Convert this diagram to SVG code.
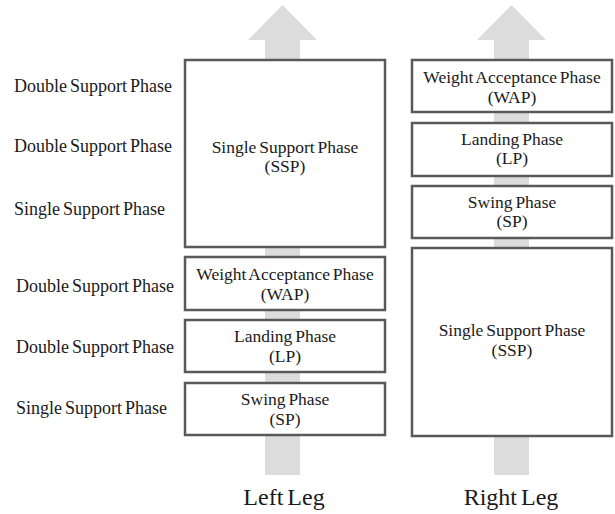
<svg xmlns="http://www.w3.org/2000/svg" width="615" height="514" viewBox="0 0 615 514">
  <style>
    .box { fill: #ffffff; stroke: #595959; stroke-width: 2.5; }
    .arrow { fill: #dcdcdc; }
    text { font-family: "Liberation Serif", "Times New Roman", serif; fill: #1a1a1a; }
    .t { font-size: 17.5px; text-anchor: middle; word-spacing: -1.5px; }
    .side { font-size: 18px; text-anchor: start; word-spacing: -1.5px; }
    .leg { font-size: 24px; text-anchor: middle; word-spacing: -2px; }
  </style>

  <!-- progression arrows behind each leg column -->
  <g id="connectors">
    <polygon class="arrow" points="265,475 300,475 300,40 317,40 282.5,5 248,40 265,40"/>
    <polygon class="arrow" points="494,475 529,475 529,40 546,40 511.5,5 477,40 494,40"/>
  </g>

  <!-- gait labels on the left -->
  <g id="side-labels">
    <text class="side" x="14" y="92">Double Support Phase</text>
    <text class="side" x="14" y="152">Double Support Phase</text>
    <text class="side" x="14" y="215">Single Support Phase</text>
    <text class="side" x="16" y="292">Double Support Phase</text>
    <text class="side" x="16" y="353">Double Support Phase</text>
    <text class="side" x="16" y="414">Single Support Phase</text>
  </g>

  <!-- left leg -->
  <g id="left-ssp">
    <rect class="box" x="185" y="60" width="200" height="187"/>
    <text class="t" x="285" y="153">Single Support Phase</text>
    <text class="t" x="285" y="172">(SSP)</text>
  </g>
  <g id="left-wap">
    <rect class="box" x="185" y="257" width="200" height="53"/>
    <text class="t" x="285" y="280">Weight Acceptance Phase</text>
    <text class="t" x="285" y="300">(WAP)</text>
  </g>
  <g id="left-lp">
    <rect class="box" x="185" y="320" width="200" height="52"/>
    <text class="t" x="285" y="342">Landing Phase</text>
    <text class="t" x="285" y="362">(LP)</text>
  </g>
  <g id="left-sp">
    <rect class="box" x="185" y="383" width="200" height="52"/>
    <text class="t" x="285" y="405">Swing Phase</text>
    <text class="t" x="285" y="425">(SP)</text>
  </g>

  <!-- right leg -->
  <g id="right-wap">
    <rect class="box" x="412" y="60" width="200" height="52"/>
    <text class="t" x="512" y="83">Weight Acceptance Phase</text>
    <text class="t" x="512" y="103">(WAP)</text>
  </g>
  <g id="right-lp">
    <rect class="box" x="412" y="123" width="200" height="53"/>
    <text class="t" x="512" y="145">Landing Phase</text>
    <text class="t" x="512" y="164">(LP)</text>
  </g>
  <g id="right-sp">
    <rect class="box" x="412" y="186" width="200" height="52"/>
    <text class="t" x="512" y="208">Swing Phase</text>
    <text class="t" x="512" y="227">(SP)</text>
  </g>
  <g id="right-ssp">
    <rect class="box" x="412" y="248" width="200" height="188"/>
    <text class="t" x="512" y="336">Single Support Phase</text>
    <text class="t" x="512" y="356">(SSP)</text>
  </g>

  <!-- column captions -->
  <g id="captions">
    <text class="leg" x="284" y="505">Left Leg</text>
    <text class="leg" x="511" y="505">Right Leg</text>
  </g>
</svg>
